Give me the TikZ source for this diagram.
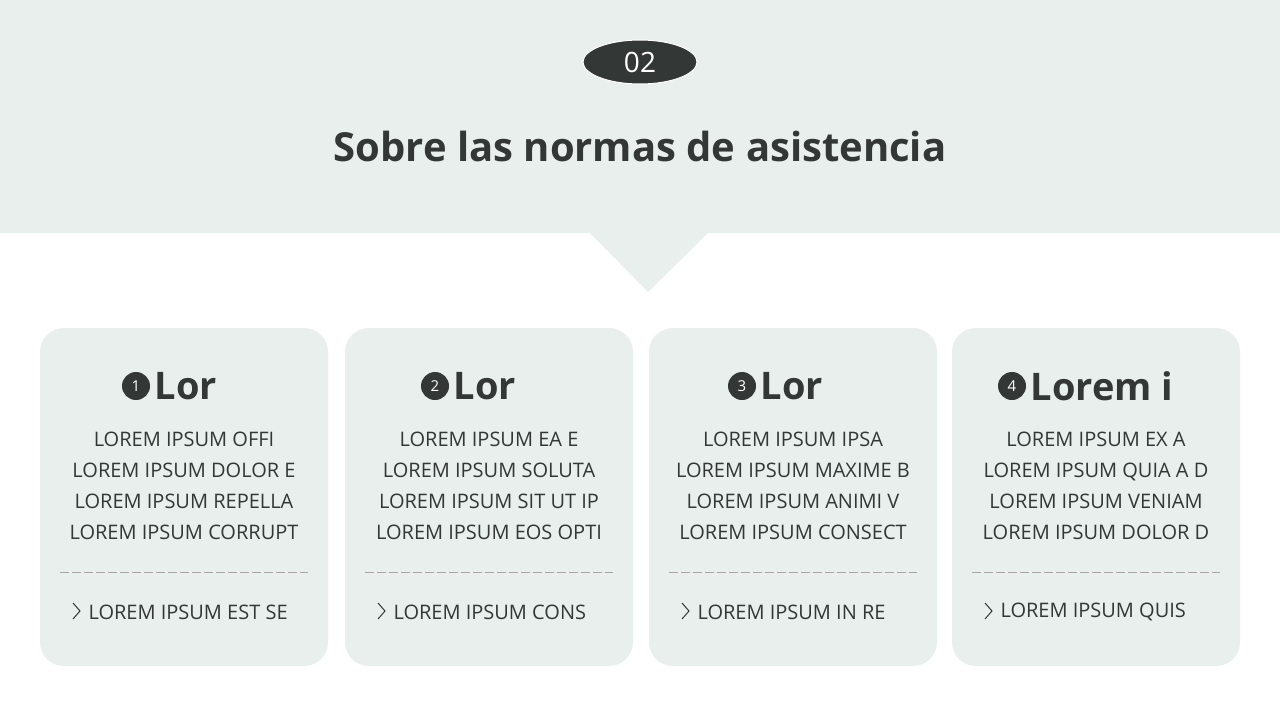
\documentclass[tikz,border=0pt]{standalone}
\usepackage{fontspec}
\setmainfont{Open Sans}
\usetikzlibrary{shapes.geometric}
\definecolor{band}{HTML}{E9EFED}
\definecolor{cardc}{HTML}{E8EFEC}
\definecolor{ink}{HTML}{333836}
\begin{document}
\begin{tikzpicture}[x=1pt,y=-1pt,
  card/.style={fill=cardc,rounded corners=24pt},
  num/.style={circle,fill=ink,text=white,inner sep=0pt,minimum size=28pt,font=\fontsize{15}{15}\selectfont},
  head/.style={anchor=west,text=ink,font=\fontsize{38}{38}\selectfont\bfseries},
  body/.style={align=center,text=ink,font=\fontsize{20}{31}\selectfont},
  foot/.style={anchor=west,text=ink,font=\fontsize{20}{20}\selectfont},
  sep/.style={draw=gray!70,dash pattern=on 9pt off 3pt,line width=1pt}]
\useasboundingbox (0,0) rectangle (1280,720);
\fill[white] (0,0) rectangle (1280,720);
\fill[band] (0,0) -- (1280,0) -- (1280,233) -- (708,233) -- (648,292) -- (590,233) -- (0,233) -- cycle;
\node[ellipse,fill=ink,draw=white,line width=1pt,minimum width=114pt,minimum height=44pt,text=white,font=\fontsize{28}{28}\selectfont] (badge) at (640,62) {02};
\node[text=ink,font=\fontsize{40}{40}\selectfont\bfseries] (title) at (640,146) {Sobre las normas de asistencia};
\foreach \i/\x/\cx/\t/\a/\b/\c/\d/\f in {
 1/40/136/Lor/LOREM IPSUM OFFI/LOREM IPSUM DOLOR E/LOREM IPSUM REPELLA/LOREM IPSUM CORRUPT/LOREM IPSUM EST SE,
 2/345/435/Lor/LOREM IPSUM EA E/LOREM IPSUM SOLUTA/LOREM IPSUM SIT UT IP/LOREM IPSUM EOS OPTI/LOREM IPSUM CONS,
 3/649/742/Lor/LOREM IPSUM IPSA/LOREM IPSUM MAXIME B/LOREM IPSUM ANIMI V/LOREM IPSUM CONSECT/LOREM IPSUM IN RE,
 4/952/1012/Lorem i/LOREM IPSUM EX A/LOREM IPSUM QUIA A D/LOREM IPSUM VENIAM/LOREM IPSUM DOLOR D/LOREM IPSUM QUIS}{
  \fill[card] (\x,328) rectangle ++(288,338);
  \node[num] (n\i) at (\cx,386) {\i};
  \node[head] (h\i) at (\cx+15,386) {\t};
  \node[body] (b\i) at (\x+144,486) {\a\\\b\\\c\\\d};
  \draw[sep] (\x+20,572) -- (\x+268,572);
  \draw[ink,line width=1pt] (\x+33,603) -- (\x+40,611) -- (\x+33,619);
  \node[foot] (f\i) at (\x+45,612) {\f};
}
\end{tikzpicture}
\end{document}
